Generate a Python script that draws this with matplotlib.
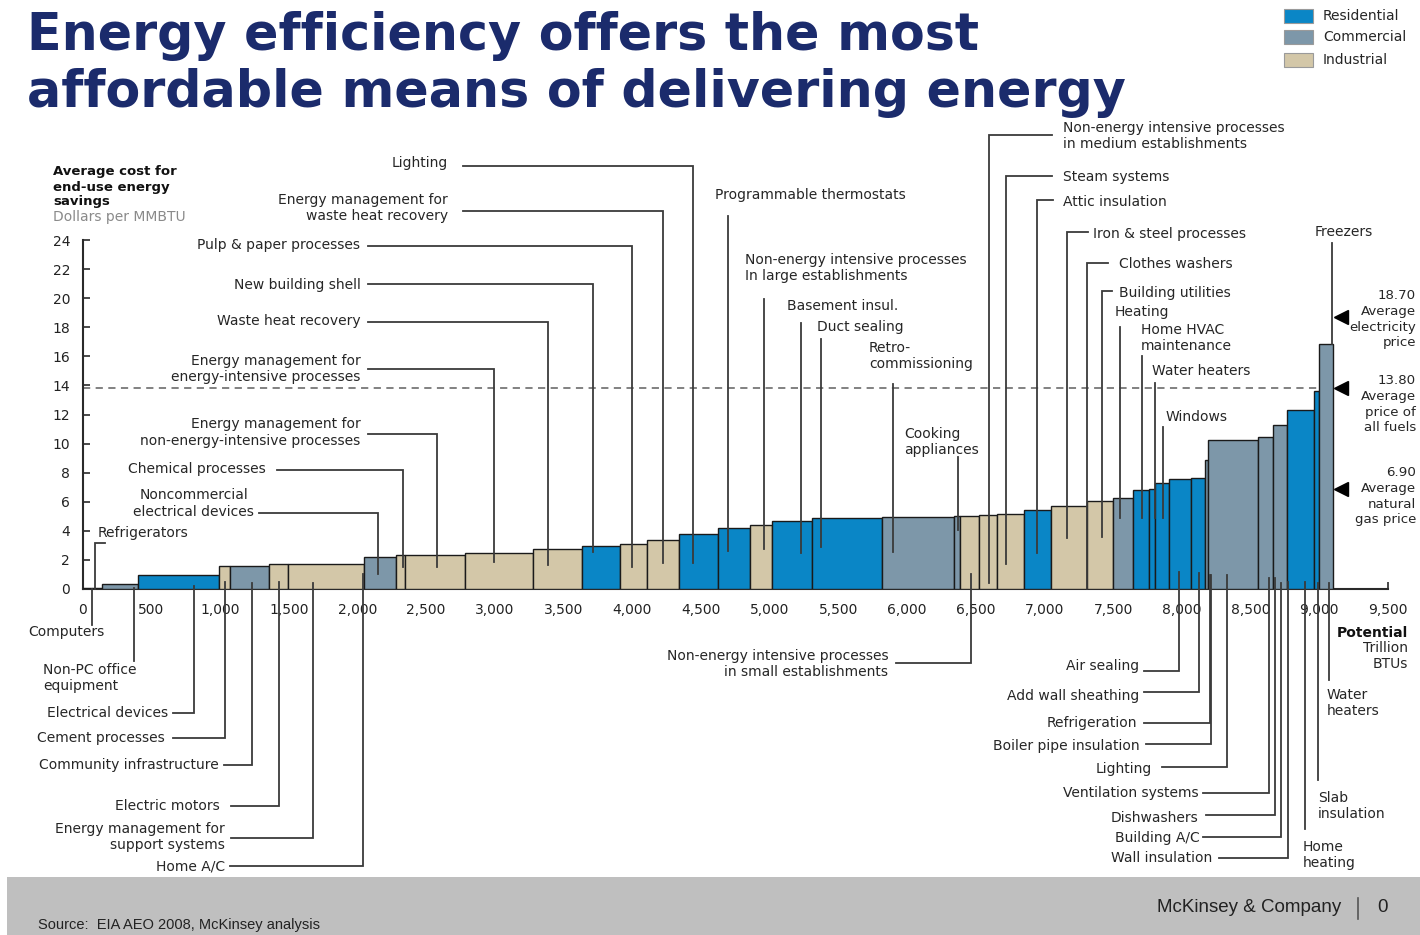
import numpy as np
import matplotlib
matplotlib.use("Agg")
import matplotlib.pyplot as plt
from matplotlib.patches import Rectangle
from matplotlib.lines import Line2D

plt.rcParams['font.family'] = ['DejaVu Sans']

# ---------------- data ----------------
# potential (trillion BTU) of each measure, in curve order
potential = [70, 69, 266, 590, 78, 286, 138, 551, 233, 66, 436, 493, 356, 279, 199,
             233, 284, 230, 163, 291, 505, 527, 43, 140, 127, 201, 192, 266, 185, 146,
             120, 44, 98, 160, 104, 24, 364, 109, 97, 201, 35, 99]
# average cost of saved energy, $/MMBTU
cost = [0.05, 0.05, 0.37, 0.95, 1.55, 1.56, 1.74, 1.74, 2.17, 2.35, 2.35, 2.46, 2.78,
        2.96, 3.09, 3.37, 3.76, 4.22, 4.40, 4.68, 4.86, 4.95, 5.04, 5.04, 5.08, 5.15,
        5.43, 5.69, 6.08, 6.26, 6.81, 6.85, 7.27, 7.56, 7.65, 8.87, 10.25, 10.48,
        11.28, 12.31, 13.62, 16.85]
sector = ['C', 'R', 'C', 'R', 'I', 'C', 'I', 'I', 'C', 'I', 'I', 'I', 'I', 'R', 'I',
          'I', 'R', 'R', 'I', 'R', 'R', 'C', 'C', 'I', 'I', 'I', 'R', 'I', 'I', 'C',
          'R', 'R', 'R', 'R', 'R', 'C', 'C', 'C', 'C', 'R', 'R', 'C']
sector_names = {'R': 'Residential', 'C': 'Commercial', 'I': 'Industrial'}
sector_colors = {'R': '#0A86C6', 'C': '#7D97A9', 'I': '#D3C7A8'}

price_values = [18.70, 13.80, 6.90]
price_labels = ["Average\nelectricity\nprice", "Average\nprice of\nall fuels",
                "Average\nnatural\ngas price"]
avg_all_fuels = 13.80

x_ticks = list(range(0, 9501, 500))
y_ticks = list(range(0, 25, 2))

# ---------------- figure ----------------
W, H = 1420, 935
fig = plt.figure(figsize=(W / 100, H / 100), dpi=100)
fig.patch.set_facecolor('white')


def fx(px):
    return px / W


def fy(py):
    return 1 - py / H


ax = fig.add_axes([fx(82.6), fy(589), (1388 - 82.6) / W, (589 - 240) / H])
ax.set_xlim(0, 9500)
ax.set_ylim(0, 24)
ax.set_facecolor('none')

lefts = np.concatenate([[0], np.cumsum(potential)[:-1]])
colors = [sector_colors[s] for s in sector]
ax.bar(lefts, cost, width=potential, align='edge', color=colors,
       edgecolor='#1a1a1a', linewidth=1.0, zorder=3)

# average price of all fuels
ax.plot([0, lefts[-1] + potential[-1]], [avg_all_fuels, avg_all_fuels],
        color='#777777', lw=1.3, ls=(0, (4, 3)), zorder=2)

for s in ['top', 'right']:
    ax.spines[s].set_visible(False)
for s in ['left', 'bottom']:
    ax.spines[s].set_color('#2a2a2a')
    ax.spines[s].set_linewidth(1.5)
ax.set_xticks(x_ticks)
ax.set_xticklabels([f"{v:,}" for v in x_ticks])
ax.set_yticks(y_ticks)
ax.tick_params(axis='both', direction='in', length=5, width=1.2, color='#2a2a2a',
               labelsize=10, labelcolor='#222222')
ax.tick_params(axis='x', pad=10)
ax.tick_params(axis='y', pad=9)

TXT = '#262626'
LC = '#3a3a3a'
FS = 10


def leader(pts):
    xs = [p[0] for p in pts]
    ys = [p[1] for p in pts]
    ax.plot(xs, ys, color=LC, lw=1.3, clip_on=False, zorder=4,
            solid_joinstyle='miter')


def label(text, x, y, ha, malign=None, weight='normal'):
    ax.text(x, y, text, ha=ha, va='center', fontsize=FS, color=TXT,
            multialignment=malign or ha, linespacing=1.2, fontweight=weight,
            clip_on=False)


# top-left group (right aligned text + elbow leaders)
top_left = [
    ("Lighting", 2659, 29.3, 'right', None, [(2769, 29.11), (4445, 29.11), (4445, 1.81)]),
    ("Energy management for\nwaste heat recovery", 2659, 26.22, 'right', None,
     [(2769, 26.02), (4222, 26.02), (4222, 1.81)]),
    ("Pulp & paper processes", 2022, 23.66, 'right', None, [(2077, 23.61), (4001, 23.61), (4001, 1.53)]),
    ("New building shell", 2022, 20.91, 'right', None, [(2077, 20.96), (3717, 20.96), (3717, 2.57)]),
    ("Waste heat recovery", 2022, 18.45, 'right', None, [(2077, 18.38), (3385, 18.38), (3385, 1.65)]),
    ("Energy management for\nenergy-intensive processes", 2022, 15.11, 'right', None,
     [(2077, 15.11), (2994, 15.11), (2994, 1.88)]),
    ("Energy management for\nnon-energy-intensive processes", 2022, 10.76, 'right', None,
     [(2077, 10.64), (2579, 10.64), (2579, 1.53)]),
    ("Chemical processes", 1335, 8.25, 'right', None, [(1415, 8.18), (2332, 8.18), (2332, 1.53)]),
    ("Noncommercial\nelectrical devices", 1248, 5.88, 'right', 'center',
     [(1284, 5.25), (2148, 5.25), (2148, 1.03)]),
    ("Refrigerators", 112, 3.85, 'left', None, [(163, 3.14), (90, 3.14), (90, 0)]),
]
middle_top = [
    ("Programmable thermostats", 4600, 27.1, [(4700, 25.62), (4700, 2.61)]),
    ("Non-energy intensive processes\nIn large establishments", 4821, 22.08,
     [(4959, 19.95), (4959, 2.73)]),
    ("Basement insul.", 5126, 19.46, [(5226, 18.3), (5226, 2.46)]),
    ("Duct sealing", 5345, 18.02, [(5376, 17.17), (5376, 2.91)]),
    ("Retro-\ncommissioning", 5723, 16.03, [(5900, 14.13), (5900, 2.57)]),
    ("Cooking\nappliances", 5978, 10.11, [(6369, 9.08), (6369, 4.06)]),
]
top_right = [
    ("Non-energy intensive processes\nin medium establishments", 7133, 31.16,
     [(7053, 31.23), (6597, 31.23), (6597, 0.39)]),
    ("Steam systems", 7133, 28.36, [(7053, 28.41), (6718, 28.41), (6718, 1.72)]),
    ("Attic insulation", 7133, 26.6, [(7065, 26.75), (6944, 26.75), (6944, 2.45)]),
    ("Iron & steel processes", 7356, 24.42, [(7319, 24.53), (7167, 24.53), (7167, 3.49)]),
    ("Clothes washers", 7545, 22.35, [(7465, 22.4), (7312, 22.4), (7312, 0)]),
    ("Building utilities", 7545, 20.38, [(7490, 20.5), (7417, 20.5), (7417, 3.6)]),
    ("Heating", 7509, 19.03, [(7550, 18.04), (7550, 4.86)]),
    ("Home HVAC\nmaintenance", 7701, 17.28, [(7713, 16.03), (7713, 4.86)]),
    ("Water heaters", 7785, 15.01, [(7805, 14.19), (7805, 4.86)]),
    ("Windows", 7878, 11.85, [(7861, 11.16), (7861, 4.86)]),
    ("Freezers", 8969, 24.58, [(9095, 23.78), (9095, 16.85)]),
]
bottom = [
    ("Computers", -121, -2.96, 'center', [(66, 0), (66, -2.48)]),
    ("Non-PC office\nequipment", -288, -6.12, 'left', [(376, 0.1), (376, -4.95)]),
    ("Electrical devices", 621, -8.53, 'right', [(658, -8.55), (811, -8.55), (811, 0.2)]),
    ("Cement processes", 600, -10.23, 'right', [(656, -10.23), (1039, -10.23), (1039, 0.5)]),
    ("Community infrastructure", 993, -12.1, 'right', [(1029, -12.1), (1235, -12.1), (1235, 0.39)]),
    ("Electric motors", 1000, -14.9, 'right', [(1080, -14.9), (1432, -14.9), (1432, 0.5)]),
    ("Energy management for\nsupport systems", 1036, -17.04, 'right',
     [(1080, -17.15), (1679, -17.15), (1679, 0.39)]),
    ("Home A/C", 1036, -19.1, 'right', [(1073, -19.03), (2043, -19.03), (2043, 1.0)]),
    ("Non-energy intensive processes\nin small establishments", 5864, -5.15, 'right',
     [(5920, -5.07), (6466, -5.07), (6466, 1.03)]),
    ("Air sealing", 7691, -5.28, 'right', [(7727, -5.62), (7982, -5.62), (7982, 1.19)]),
    ("Add wall sheathing", 7691, -7.34, 'right', [(7727, -7.06), (8127, -7.06), (8127, 1.12)]),
    ("Refrigeration", 7676, -9.2, 'right', [(7725, -9.2), (8205, -9.2), (8205, 0.96)]),
    ("Boiler pipe insulation", 7691, -10.78, 'right', [(7740, -10.66), (8212, -10.66), (8212, 0.96)]),
    ("Lighting", 7785, -12.38, 'right', [(7858, -12.26), (8327, -12.26), (8327, 0.96)]),
    ("Ventilation systems", 8120, -14.05, 'right', [(8156, -14.01), (8635, -14.01), (8635, 0.76)]),
    ("Dishwashers", 8120, -15.73, 'right', [(8176, -15.54), (8679, -15.54), (8679, 0.76)]),
    ("Building A/C", 8132, -17.1, 'right', [(8156, -17.08), (8722, -17.08), (8722, 0.43)]),
    ("Wall insulation", 8222, -18.52, 'right', [(8273, -18.52), (8775, -18.52), (8775, 0.5)]),
    ("Home\nheating", 8880, -18.27, 'left', [(8897, 0.5), (8897, -16.53)]),
    ("Slab\ninsulation", 8989, -14.91, 'left', [(8994, 0.43), (8994, -13.14)]),
    ("Water\nheaters", 9055, -7.86, 'left', [(9071, 0.41), (9071, -6.26)]),
]

for t, x, y, ha, ma, pts in top_left:
    label(t, x, y, ha, ma)
    leader(pts)
for t, x, y, pts in middle_top:
    label(t, x, y, 'left')
    leader(pts)
for t, x, y, pts in top_right:
    label(t, x, y, 'left')
    leader(pts)
for t, x, y, ha, pts in bottom:
    label(t, x, y, ha)
    leader(pts)

# x axis title on the right
ax.text(9648, -3.03, "Potential", ha='right', va='center', fontsize=FS,
        fontweight='bold', color='#111111', clip_on=False)
ax.text(9648, -4.06, "Trillion", ha='right', va='center', fontsize=FS, color=TXT, clip_on=False)
ax.text(9648, -5.16, "BTUs", ha='right', va='center', fontsize=FS, color=TXT, clip_on=False)

# price markers
price_text_top = [20.63, 14.79, 8.46]
for v, lab, yt in zip(price_values, price_labels, price_text_top):
    ax.plot([9157], [v], marker='<', ms=10, color='black', clip_on=False, zorder=5)
    ax.text(9705, yt, f"{v:.2f}\n{lab}", ha='right', va='top', fontsize=9.6,
            color=TXT, multialignment='right', linespacing=1.28, clip_on=False)

# y axis title
fig.text(fx(53), fy(187), "Average cost for\nend-use energy\nsavings", ha='left',
         va='center', fontsize=9.5, fontweight='bold', color='#111111', linespacing=1.2)
fig.text(fx(53), fy(217), "Dollars per MMBTU", ha='left', va='center', fontsize=10,
         color='#8a8a8a')

# title
TC = '#1B2B6C'
fig.text(fx(27), fy(50), "Energy efficiency offers the most", ha='left', va='baseline',
         fontsize=36.5, fontweight='bold', color=TC)
fig.text(fx(27), fy(107), "affordable means of delivering energy", ha='left', va='baseline',
         fontsize=36.5, fontweight='bold', color=TC)

# legend
leg_y = [16, 37, 60]
for key, yy in zip(['R', 'C', 'I'], leg_y):
    fig.add_artist(Rectangle((fx(1284), fy(yy + 7)), 29 / W, 14 / H, transform=fig.transFigure,
                             facecolor=sector_colors[key], edgecolor='#9a9a9a', lw=0.8))
    fig.text(fx(1323), fy(yy), sector_names[key], ha='left', va='center', fontsize=10,
             color=TXT)

# footer
fig.add_artist(Rectangle((fx(7), 0), (W - 7) / W, 58 / H, transform=fig.transFigure,
                         facecolor='#BFBFBF', edgecolor='none', zorder=0))
fig.text(fx(1341), fy(908), "McKinsey & Company", ha='right', va='center',
         fontsize=13.5, family='Liberation Sans', color='#222222')
fig.add_artist(Line2D([fx(1358), fx(1358)], [fy(898), fy(919)], transform=fig.transFigure,
                      color='#555555', lw=1.2))
fig.text(fx(1382), fy(908), "0", ha='center', va='center', fontsize=13.5,
         family='Liberation Sans', color='#222222')
fig.text(fx(38), fy(925), "Source:  EIA AEO 2008, McKinsey analysis", ha='left', va='center',
         fontsize=10.5, family='Liberation Sans', color='#222222')

fig.savefig("out.png", dpi=100)
